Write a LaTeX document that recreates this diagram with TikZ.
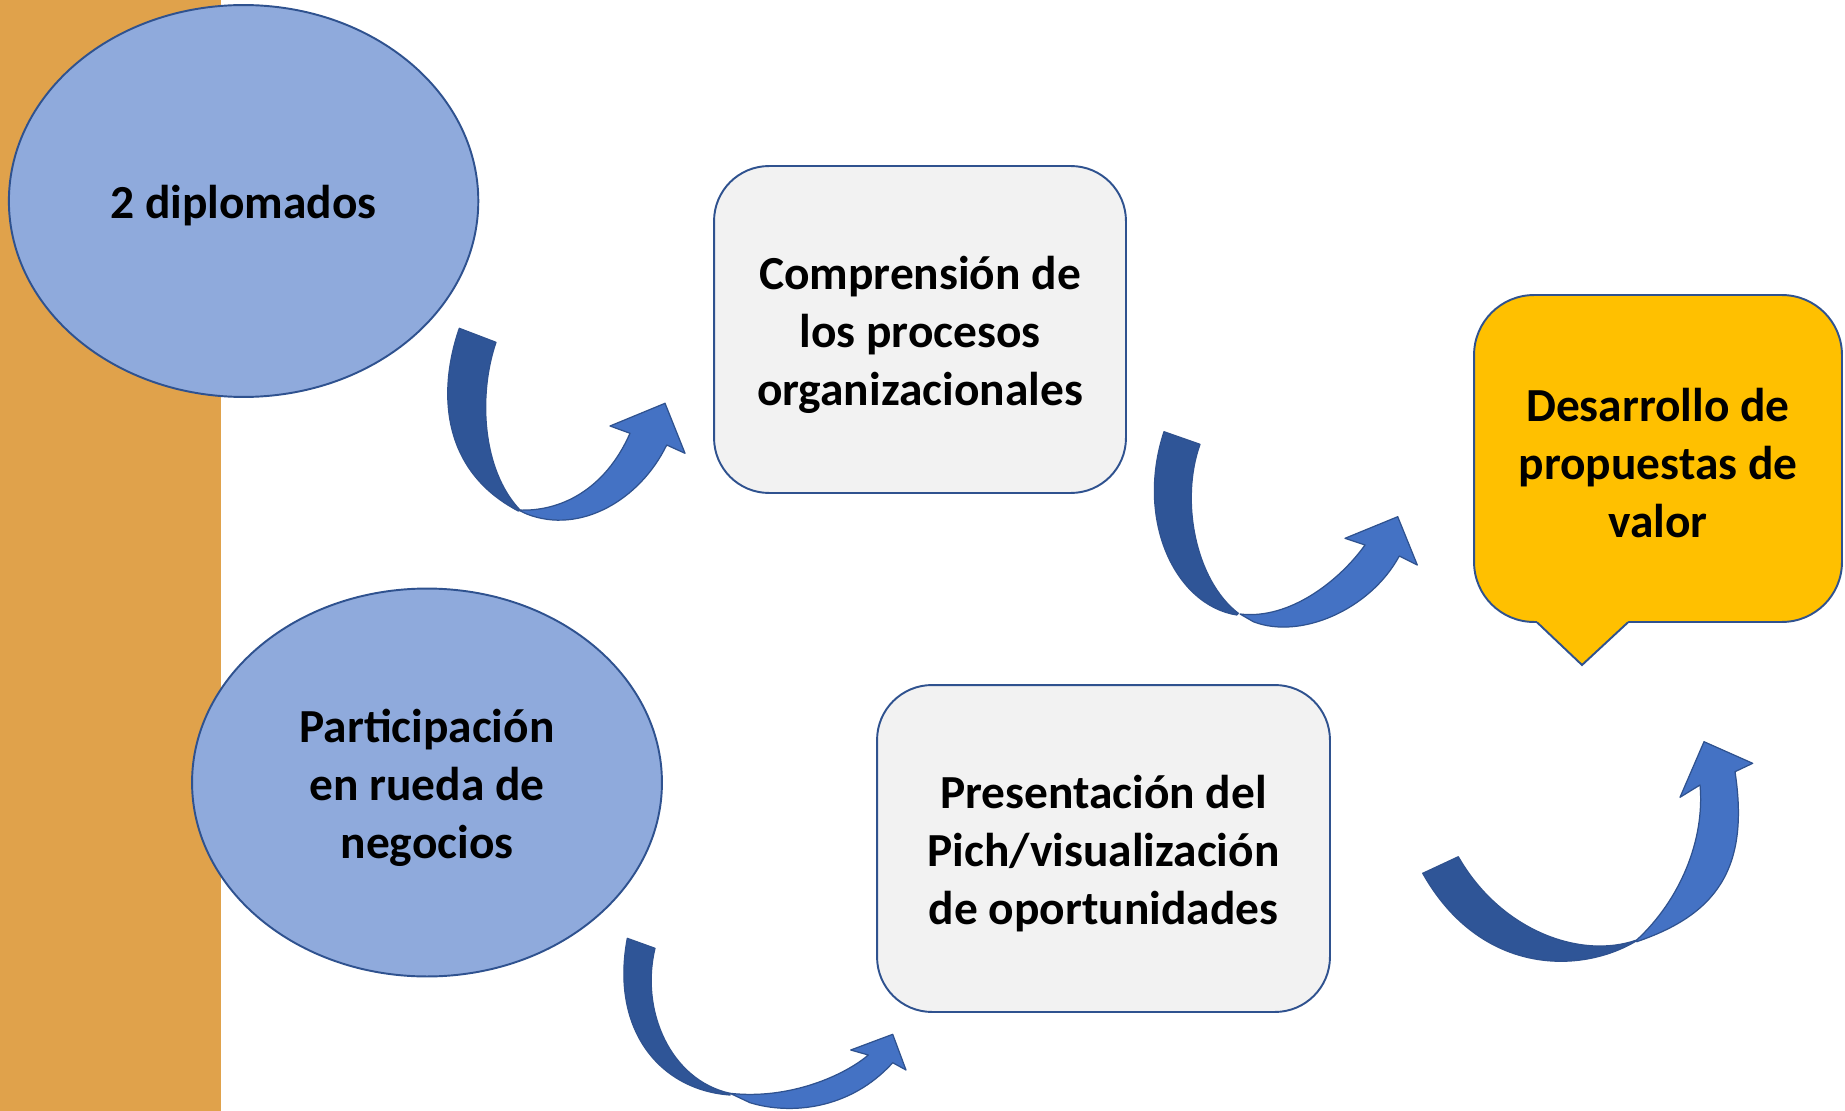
\documentclass[tikz,border=0pt]{standalone}
\usepackage{fontspec}
\setmainfont{Carlito}
\usetikzlibrary{positioning,shapes.geometric}

\definecolor{barorange}{RGB}{224,162,75}
\definecolor{ovalblue}{RGB}{143,170,220}
\definecolor{edgeblue}{RGB}{47,82,143}
\definecolor{cardgray}{RGB}{242,242,242}
\definecolor{calloutgold}{RGB}{255,192,0}
\definecolor{arrowdark}{RGB}{47,85,151}
\definecolor{arrowlight}{RGB}{68,114,196}

\begin{document}
\begin{tikzpicture}[x=0.02cm,y=-0.02cm,
    txt/.style={font=\fontsize{27}{33}\selectfont\bfseries,align=center,text=black,yshift=-0.1cm},
    oval/.style={ellipse,draw=edgeblue,line width=1.1pt,fill=ovalblue,inner sep=0pt},
    card/.style={rectangle,rounded corners=1.1cm,draw=edgeblue,line width=1.1pt,fill=cardgray,inner sep=0pt},
    back/.style={fill=arrowdark,draw=edgeblue,line width=0.7pt,line join=round},
    front/.style={fill=arrowlight,draw=edgeblue,line width=0.7pt,line join=round}]
        \useasboundingbox (0,0) rectangle (1845,1111);
        \fill[barorange] (0,0) rectangle (221,1111);

        \node[oval,minimum width=9.39cm,minimum height=7.84cm,label={[txt]center:2 diplomados}] (diplomados) at (243.6,201) {};
        \node[oval,minimum width=9.4cm,minimum height=7.76cm,label={[txt]center:{Participación\\en rueda de\\negocios}}] (rueda) at (427,782.5) {};
        \node[card,minimum width=8.24cm,minimum height=6.54cm,label={[txt]center:{Comprensión de\\los procesos\\organizacionales}}] (procesos) at (920,329.5) {};
        \node[card,minimum width=9.06cm,minimum height=6.54cm,label={[txt]center:{Presentación del\\Pich/visualización\\de oportunidades}}] (pitch) at (1103.5,848.5) {};
        \node[card,fill=calloutgold,rounded corners=1.2cm,minimum width=7.36cm,minimum height=6.54cm,label={[txt]center:{Desarrollo de\\propuestas de\\valor}}] (valor) at (1658,458.5) {};
        \fill[calloutgold] (1537,618) -- (1537,622) -- (1582,665) -- (1628,622) -- (1628,618) -- cycle;
        \draw[edgeblue,line width=1.1pt] (1537,622.3) -- (1582,665) -- (1628,622.3);

        \draw[back] (459.3,328.3) -- (496,342.3) .. controls (478,395) and (482,470) .. (520,510)
            -- (518.3,511) .. controls (440,470) and (438,390) .. (459.3,328.3) -- cycle;
        \draw[front] (518.3,510) .. controls (560,512) and (605,490) .. (630,433.3)
            -- (610,426) -- (665,403.3) -- (685,453.3)
            -- (666.7,445) .. controls (640,500) and (580,535) .. (526.7,514) -- cycle;

        \draw[back] (1164,431.7) -- (1200,444.3) .. controls (1180,500) and (1195,580) .. (1238.3,613.3)
            -- (1236.7,615) .. controls (1175,605) and (1135,520) .. (1164,431.7) -- cycle;
        \draw[front] (1240,614) .. controls (1290,620) and (1340,580) .. (1365,545)
            -- (1345,538.3) -- (1397.7,516.7) -- (1417.3,565)
            -- (1399.3,556) .. controls (1370,610) and (1300,640) .. (1253.3,621.7) -- cycle;

        \draw[back] (627.3,938.3) -- (655,948.3) .. controls (640,1010) and (670,1080) .. (730,1093.3)
            -- (730,1095) .. controls (660,1090) and (610,1030) .. (627.3,938.3) -- cycle;
        \draw[front] (730,1093.3) .. controls (790,1100) and (845,1075) .. (868.3,1055)
            -- (850.7,1050) -- (892.7,1034.3) -- (906,1070)
            -- (892.7,1062.7) .. controls (850,1110) and (790,1115) .. (750,1102.7) -- cycle;

        \draw[back] (1422.7,873.3) -- (1458.3,856.7) .. controls (1500,930) and (1580,960) .. (1636.7,940)
            -- (1636.7,940.7) .. controls (1580,975) and (1480,975) .. (1422.7,873.3) -- cycle;
        \draw[front] (1636.7,940) .. controls (1680,900) and (1705,840) .. (1700,785)
            -- (1680,797.3) -- (1704,741.7) -- (1752.7,763.3)
            -- (1735,771.7) .. controls (1750,870) and (1715,915) .. (1636.7,941.7) -- cycle;
    \end{tikzpicture}
\end{document}
